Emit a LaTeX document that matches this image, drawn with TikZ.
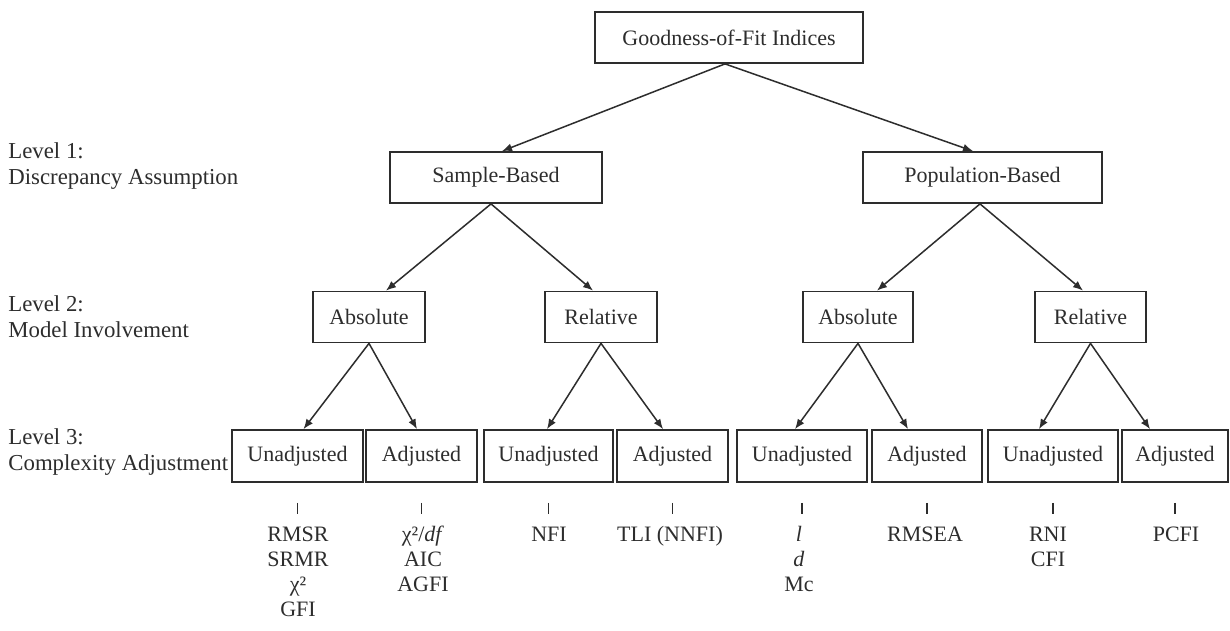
\documentclass[tikz,border=0pt]{standalone}
\usepackage{fontspec}
\setmainfont{Liberation Serif}
\usetikzlibrary{arrows.meta}
\definecolor{ink}{RGB}{45,45,45}
\begin{document}
\begin{tikzpicture}[x=0.5pt,y=-0.5pt,
  box/.style={draw=ink,line width=0.9pt,text=ink,inner sep=0pt,minimum height=25.5pt,font=\fontsize{11}{13}\selectfont},
  conn/.style={draw=ink,line width=0.75pt,-{Latex[length=5pt,width=4pt]}},
  tickline/.style={draw=ink,line width=0.6pt},
  lvl/.style={text=ink,anchor=base west,inner sep=0pt,align=left,font=\fontsize{11.4}{12.8}\selectfont},
  list/.style={text=ink,anchor=base,inner sep=0pt,align=center,font=\fontsize{11}{12.5}\selectfont}]
\useasboundingbox (0,0) rectangle (1230,631);
\fill[white] (0,0) rectangle (1230,631);

% level labels (anchor = baseline of last line)
\node[lvl] (lab1) at (8,184) {Level 1:\\Discrepancy Assumption};
\node[lvl] (lab2) at (8,337) {Level 2:\\Model Involvement};
\node[lvl] (lab3) at (8,470) {Level 3:\\Complexity Adjustment};

% boxes
\node[box,minimum width=134pt] (gof) at (729,37.5) {Goodness-of-Fit Indices};
\node[box,minimum width=106pt] (sb) at (496,177.5) {Sample-Based};
\node[box,minimum width=119.5pt] (pb) at (982.5,177.5) {Population-Based};

\node[box,minimum width=56pt] (as) at (369,317) {Absolute};
\node[box,minimum width=56pt] (rs) at (601,317) {Relative};
\node[box,minimum width=55pt] (ap) at (858,317) {Absolute};
\node[box,minimum width=55.5pt] (rp) at (1090.5,317) {Relative};

\node[box,minimum width=65.5pt,minimum height=26pt] (u1) at (297.5,456) {Unadjusted};
\node[box,minimum width=55.5pt,minimum height=26pt] (a1) at (421.5,456) {Adjusted};
\node[box,minimum width=64.5pt,minimum height=26pt] (u2) at (548.5,456) {Unadjusted};
\node[box,minimum width=55.5pt,minimum height=26pt] (a2) at (672.5,456) {Adjusted};
\node[box,minimum width=65pt,minimum height=26pt] (u3) at (802,456) {Unadjusted};
\node[box,minimum width=55pt,minimum height=26pt] (a3) at (927,456) {Adjusted};
\node[box,minimum width=65pt,minimum height=26pt] (u4) at (1053,456) {Unadjusted};
\node[box,minimum width=53pt,minimum height=26pt] (a4) at (1175,456) {Adjusted};

% connectors
\draw[conn] ([xshift=-2pt]gof.south) -- ([xshift=3pt]sb.north);
\draw[conn] ([xshift=-2pt]gof.south) -- ([xshift=-4.75pt]pb.north);
\draw[conn] ([xshift=-2.5pt]sb.south) -- ([xshift=8.5pt]as.north);
\draw[conn] ([xshift=-2.5pt]sb.south) -- ([xshift=-4pt]rs.north);
\draw[conn] ([xshift=-1.25pt]pb.south) -- ([xshift=9.5pt]ap.north);
\draw[conn] ([xshift=-1.25pt]pb.south) -- ([xshift=-3.75pt]rp.north);
\draw[conn] (as.south) -- ([xshift=3pt]u1.north);
\draw[conn] (as.south) -- ([xshift=-2.25pt]a1.north);
\draw[conn] (rs.south) -- ([xshift=-0.75pt]u2.north);
\draw[conn] (rs.south) -- ([xshift=-4.75pt]a2.north);
\draw[conn] (ap.south) -- ([xshift=-3.5pt]u3.north);
\draw[conn] (ap.south) -- ([xshift=-9.5pt]a3.north);
\draw[conn] (rp.south) -- ([xshift=-7pt]u4.north);
\draw[conn] (rp.south) -- ([xshift=-12.5pt]a4.north);

% ticks
\foreach \b in {u1,a1,u2,a2,u3,a3,u4,a4}
  \draw[tickline] ([yshift=-10pt]\b.south) -- ([yshift=-15.5pt]\b.south);

% index lists (anchor = baseline of last line; first baseline at 541)
\node[list] (l1) at (298,616) {RMSR\\SRMR\\χ²\\GFI};
\node[list] (l2) at (423,591) {χ²/\textit{df}\\AIC\\AGFI};
\node[list] (l3) at (549,541) {NFI};
\node[list] (l4) at (670,541) {TLI (NNFI)};
\node[list] (l5) at (799,591) {\textit{l}\\\textit{d}\\Mc};
\node[list] (l6) at (925,541) {RMSEA};
\node[list] (l7) at (1048,566) {RNI\\CFI};
\node[list] (l8) at (1176,541) {PCFI};
\end{tikzpicture}
\end{document}
